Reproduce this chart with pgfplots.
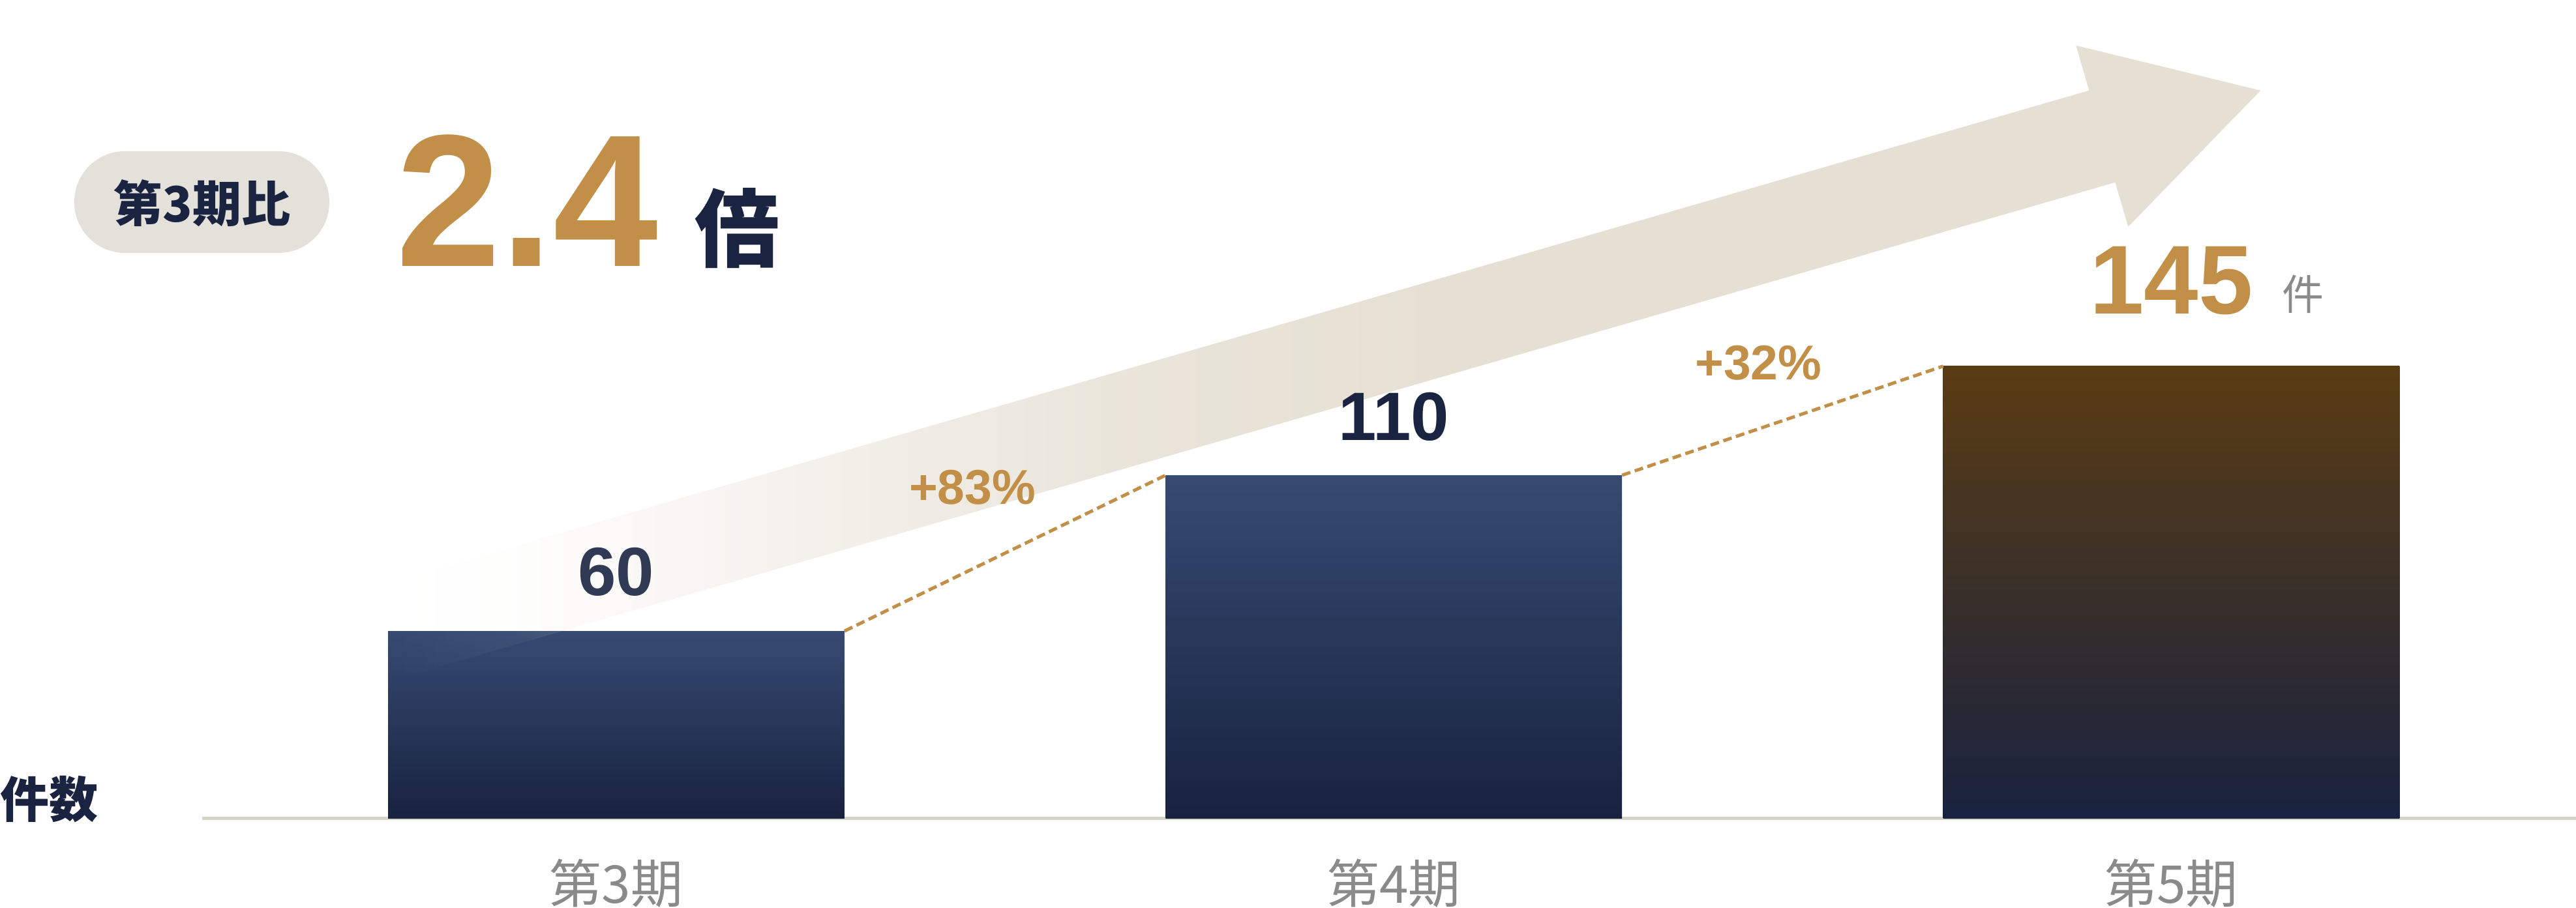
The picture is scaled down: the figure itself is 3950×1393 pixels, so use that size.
\documentclass[border=0pt]{standalone}
\usepackage{fontspec}
\setmainfont{Liberation Sans}
\newfontfamily\cjk{Noto Sans CJK JP}
\usepackage{pgfplots}
\pgfplotsset{compat=1.18}
\usetikzlibrary{fadings}

\definecolor{navy}{HTML}{1A2441}
\definecolor{gold}{HTML}{C18F47}
\definecolor{pill}{HTML}{E3E1DA}
\definecolor{arrowc}{HTML}{E6E0D4}
\definecolor{baseln}{HTML}{D6D3C8}
\definecolor{labgray}{HTML}{8A8A8A}
\definecolor{barTop}{HTML}{364A72}
\definecolor{barBot}{HTML}{18223F}
\definecolor{brownTop}{HTML}{5A3C13}
\definecolor{brownMid}{HTML}{38302E}

% arrow fades in from the left
\pgfdeclarehorizontalshading{arrowmask}{100bp}{color(0bp)=(black); color(25bp)=(black);
  color(28.5bp)=(black!95); color(32.3bp)=(black!75); color(39bp)=(black!40);
  color(45.3bp)=(black!12); color(53bp)=(white); color(100bp)=(white)}
\pgfdeclarefading{arrowfade}{\pgfuseshading{arrowmask}}

\def\arrowpath{(600,893) -- (3203,139) -- (3183,70) -- (3466,139) -- (3263,348) -- (3243,280) -- (600,1044) -- cycle}

\begin{document}
\begin{tikzpicture}[x=0.2pt, y=-0.2pt]
\path[use as bounding box] (0,0) rectangle (3950,1393);

% big arrow behind the bars
\fill[arrowc, path fading=arrowfade] \arrowpath;

\begin{axis}[
    at={(62pt,-251pt)}, anchor=south west,
    scale only axis, width=728pt, height=251pt,
    xmin=-0.5326, xmax=2.5205, ymin=0, ymax=262.5,
    axis x line*=bottom, axis y line=none,
    x axis line style={draw=baseln, line width=1pt, -},
    ytick=\empty,
    xtick={0,1,2},
    xticklabels={第3期,第4期,第5期},
    major tick length=0pt,
    xticklabel style={font=\cjk\fontsize{16}{16}\selectfont, text=labgray, anchor=center, yshift=-20pt},
    ybar, bar width=0.587, bar shift=0pt,
    clip=false,
    /pgf/number format/assume math mode=true,
]

\addplot[draw=none, top color=barTop, bottom color=barBot,
    nodes near coords={\pgfmathprintnumber{\pgfplotspointmeta}},
    nodes near coords style={anchor=center, yshift=18.2pt, text=navy!90!white,
      font=\bfseries\fontsize{21}{21}\selectfont}]
    coordinates {(0,60)};

\addplot[draw=none, top color=barTop, bottom color=barBot,
    nodes near coords={\pgfmathprintnumber{\pgfplotspointmeta}},
    nodes near coords style={anchor=center, yshift=18pt, text=navy,
      font=\bfseries\fontsize{21}{21}\selectfont}]
    coordinates {(1,110)};

\addplot[draw=none, top color=brownTop, middle color=brownMid, bottom color=barBot,
    nodes near coords={\pgfmathprintnumber{\pgfplotspointmeta}\rlap{\hspace{9pt}\raisebox{1.3pt}{\cjk\mdseries\fontsize{12.8}{12.8}\selectfont\color{labgray}件}}},
    nodes near coords style={anchor=center, yshift=26.2pt, text=gold,
      font=\bfseries\fontsize{30}{30}\selectfont}]
    coordinates {(2,145)};

% dotted growth connectors between bar tops
\addplot[sharp plot, draw=gold, line width=1pt, dash pattern=on 2.7pt off 1.4pt, no markers]
    coordinates {(0.2935,60) (0.7065,110)};
\addplot[sharp plot, draw=gold, line width=1pt, dash pattern=on 2.7pt off 1.4pt, no markers]
    coordinates {(1.2935,110) (1.7065,145)};

\node[text=gold, font=\bfseries\fontsize{15}{15}\selectfont] at (axis cs:0.458,106) {+83\%};
\node[text=gold, font=\bfseries\fontsize{15}{15}\selectfont] at (axis cs:1.469,146) {+32\%};
\end{axis}

% faint arrow tail over the first bar
\begin{scope}
  \clip (595,968) rectangle (1295,1255);
  \fill[arrowc, path fading=arrowfade] \arrowpath;
\end{scope}

% header
\fill[pill, rounded corners=15.5pt] (114,232) rectangle (505,388);
\node[text=navy, font=\cjk\bfseries\fontsize{15}{15}\selectfont] at (310,312) {第3期比};
\node[text=gold, font=\bfseries\fontsize{57.8}{57.8}\selectfont, anchor=base, inner sep=0pt] at (808,409) {2.4};
\node[text=navy, font=\cjk\bfseries\fontsize{26}{26}\selectfont] at (1130,350) {倍};
\node[text=navy, font=\cjk\bfseries\fontsize{15}{15}\selectfont] at (76,1226) {件数};
\end{tikzpicture}
\end{document}
